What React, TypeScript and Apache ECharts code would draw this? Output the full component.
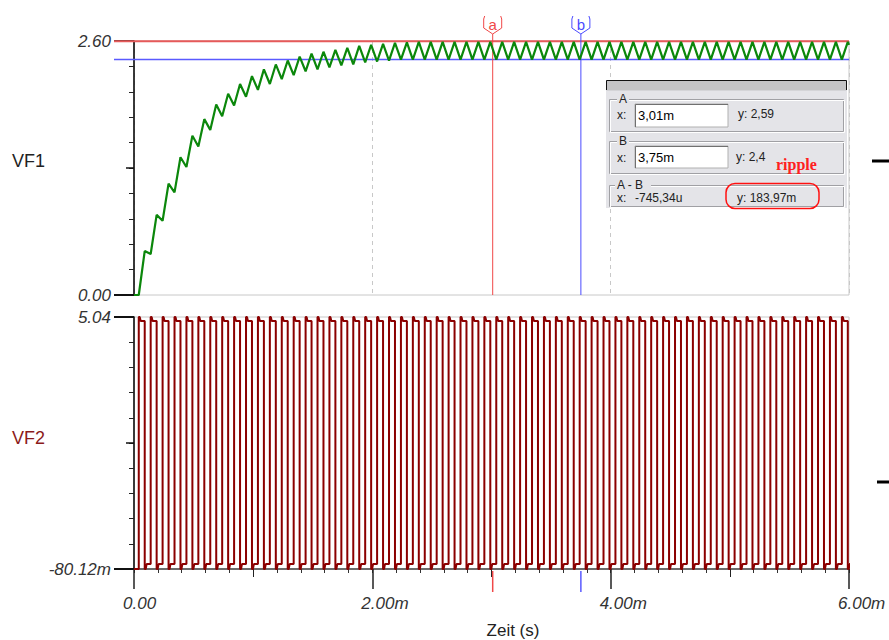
import React, { useEffect, useRef } from "react";
import * as echarts from "echarts";

// ---- data ----
const cycleStarts = [
  0.04, 0.14, 0.24, 0.34, 0.44, 0.54, 0.64, 0.74, 0.84, 0.94,
  1.04, 1.14, 1.24, 1.34, 1.44, 1.54, 1.64, 1.74, 1.84, 1.94,
  2.04, 2.14, 2.24, 2.34, 2.44, 2.54, 2.64, 2.74, 2.84, 2.94,
  3.04, 3.14, 3.24, 3.34, 3.44, 3.54, 3.64, 3.74, 3.84, 3.94,
  4.04, 4.14, 4.24, 4.34, 4.44, 4.54, 4.64, 4.74, 4.84, 4.94,
  5.04, 5.14, 5.24, 5.34, 5.44, 5.54, 5.64, 5.74, 5.84, 5.94,
];
const highWidth = 0.05; // ms of the high phase in every cycle
const vf1Peaks = [
  0.45, 0.82, 1.14, 1.41, 1.63, 1.8, 1.95, 2.06, 2.16, 2.24,
  2.31, 2.36, 2.4, 2.44, 2.47, 2.49, 2.51, 2.53, 2.55, 2.56,
  2.57, 2.58, 2.585, 2.59, 2.59, 2.59, 2.59, 2.59, 2.59, 2.59,
  2.59, 2.59, 2.59, 2.59, 2.59, 2.59, 2.59, 2.59, 2.59, 2.59,
  2.59, 2.59, 2.59, 2.59, 2.59, 2.59, 2.59, 2.59, 2.59, 2.59,
  2.59, 2.59, 2.59, 2.59, 2.59, 2.59, 2.59, 2.59, 2.59, 2.59,
];
const vf1Troughs = [
  0.42, 0.76, 1.05, 1.31, 1.52, 1.69, 1.83, 1.94, 2.03, 2.1,
  2.16, 2.21, 2.25, 2.29, 2.31, 2.33, 2.35, 2.36, 2.38, 2.39,
  2.4, 2.41, 2.41, 2.41, 2.41, 2.41, 2.41, 2.41, 2.41, 2.41,
  2.41, 2.41, 2.41, 2.41, 2.41, 2.41, 2.41, 2.41, 2.41, 2.41,
  2.41, 2.41, 2.41, 2.41, 2.41, 2.41, 2.41, 2.41, 2.41, 2.41,
  2.41, 2.41, 2.41, 2.41, 2.41, 2.41, 2.41, 2.41, 2.41, 2.56,
];
const vf2High = [5.04, 4.96]; // overshoot, settled
const vf2Low = [-0.08012, 0.02]; // undershoot, settled
const vf1Range = [0, 2.6];
const vf2Range = [-0.08012, 5.04];
const timeRange = [0, 6];
const timeLabels = [0, 2, 4, 6];
const timeMidTicks = [1, 3, 5];
const cursorA = { x: 3.01, y: 2.597 };
const cursorB = { x: 3.75, y: 2.41 };

const FONT = '"Liberation Sans", Arial, sans-serif';

function buildVF1(): number[][] {
  const pts: number[][] = [[timeRange[0], 0]];
  let prev = 0;
  for (let k = 0; k < cycleStarts.length; k++) {
    pts.push([cycleStarts[k], prev]);
    pts.push([cycleStarts[k] + highWidth, vf1Peaks[k]]);
    prev = vf1Troughs[k];
  }
  pts.push([timeRange[1], prev]);
  return pts;
}

function buildVF2(): number[][] {
  const pts: number[][] = [[timeRange[0], vf2Low[0]]];
  let level = vf2Low[0];
  for (let k = 0; k < cycleStarts.length; k++) {
    const r = cycleStarts[k];
    const f = r + highWidth;
    pts.push([r, level]);
    pts.push([r, vf2High[0]]);
    pts.push([r + 0.008, vf2High[0]]);
    pts.push([r + 0.016, vf2High[1]]);
    pts.push([f, vf2High[1]]);
    pts.push([f, vf2Low[0]]);
    pts.push([f + 0.008, vf2Low[0]]);
    pts.push([f + 0.016, vf2Low[1]]);
    level = vf2Low[1];
  }
  pts.push([timeRange[1], level]);
  return pts;
}

function tenTicks(r: number[]): number[] {
  const out: number[] = [];
  for (let i = 0; i <= 10; i++) out.push(r[0] + ((r[1] - r[0]) * i) / 10);
  return out;
}

function fmtY(v: number): string {
  if (Math.abs(v) < 1e-9) return "0.00";
  if (Math.abs(v) < 1) return (v * 1000).toFixed(2) + "m";
  return v.toFixed(2);
}

function fmtX(v: number): string {
  if (Math.abs(v) < 1e-9) return "0.00";
  return v.toFixed(2) + "m";
}

const labelFont = {
  fontSize: 17,
  fontStyle: "italic" as const,
  color: "#333",
  fontFamily: FONT,
};

function mainY(gridIndex: number, r: number[]) {
  return {
    type: "value",
    gridIndex,
    position: "left",
    offset: 0,
    min: r[0],
    max: r[1],
    axisLine: { show: true, onZero: false, lineStyle: { color: "#000", width: 1.5 } },
    axisTick: {
      show: true,
      inside: false,
      customValues: tenTicks(r),
      length: 5,
      lineStyle: { color: "#222", width: 1 },
    },
    axisLabel: {
      show: true,
      customValues: [r[0], r[1]],
      formatter: (v: number) => fmtY(v),
      margin: 23,
      ...labelFont,
    },
    splitLine: { show: false },
  };
}

function overlayY(gridIndex: number, r: number[], ticks: number[], len: number, width: number) {
  return {
    type: "value",
    gridIndex,
    position: "left",
    offset: 0,
    min: r[0],
    max: r[1],
    axisLine: { show: false, onZero: false },
    axisTick: {
      show: true,
      inside: false,
      customValues: ticks,
      length: len,
      lineStyle: { color: "#111", width },
    },
    axisLabel: { show: false, customValues: ticks },
    splitLine: { show: false },
  };
}

function overlayX(gridIndex: number, ticks: number[], len: number, width: number) {
  return {
    type: "value",
    gridIndex,
    position: "bottom",
    offset: 0,
    min: timeRange[0],
    max: timeRange[1],
    axisLine: { show: false, onZero: false },
    axisTick: {
      show: true,
      inside: false,
      customValues: ticks,
      length: len,
      lineStyle: { color: "#222", width },
    },
    axisLabel: { show: false, customValues: ticks },
    splitLine: { show: false },
  };
}

const xTicks: number[] = [];
for (let i = 0; i <= 30; i++) xTicks.push(+(i * 0.2).toFixed(2));

export default function App() {
  const ref = useRef<HTMLDivElement>(null);
  useEffect(() => {
    if (!ref.current) return;
    const chart = echarts.init(ref.current, undefined, { renderer: "svg" });
    const gridStyle = {
      show: true,
      borderColor: "#c8c8c8",
      borderWidth: 1,
      backgroundColor: "transparent",
    };
    chart.setOption({
      animation: false,
      backgroundColor: "#fff",
      grid: [
        { left: 134, width: 715, top: 41, height: 254, ...gridStyle },
        { left: 134, width: 715, top: 317, height: 252, ...gridStyle },
      ],
      xAxis: [
        {
          type: "value",
          gridIndex: 0,
          position: "bottom",
          min: timeRange[0],
          max: timeRange[1],
          interval: 2,
          axisLine: { show: false, onZero: false },
          axisTick: { show: false },
          axisLabel: { show: false },
          splitLine: { show: true, lineStyle: { color: "#c8c8c8", type: [4, 4], width: 1 } },
        },
        {
          type: "value",
          gridIndex: 1,
          position: "bottom",
          offset: 0,
          min: timeRange[0],
          max: timeRange[1],
          axisLine: { show: true, onZero: false, lineStyle: { color: "#444", width: 1.5 } },
          axisTick: {
            show: true,
            inside: false,
            customValues: xTicks,
            length: 4,
            lineStyle: { color: "#333", width: 1 },
          },
          axisLabel: {
            show: true,
            customValues: timeLabels,
            formatter: (v: number) => fmtX(v),
            align: "left",
            padding: [0, 0, 0, -11],
            margin: 26,
            ...labelFont,
          },
          splitLine: { show: false },
        },
        overlayX(1, timeMidTicks, 8, 1),
        overlayX(1, timeLabels, 20, 1.5),
      ],
      yAxis: [
        mainY(0, vf1Range),
        overlayY(0, vf1Range, [vf1Range[0], vf1Range[1]], 20, 2),
        overlayY(0, vf1Range, [(vf1Range[0] + vf1Range[1]) / 2], 8, 1.5),
        mainY(1, vf2Range),
        overlayY(1, vf2Range, [vf2Range[0], vf2Range[1]], 20, 2),
        overlayY(1, vf2Range, [(vf2Range[0] + vf2Range[1]) / 2], 8, 1.5),
      ],
      series: [
        {
          name: "VF1",
          type: "line",
          xAxisIndex: 0,
          yAxisIndex: 0,
          data: buildVF1(),
          showSymbol: false,
          symbol: "none",
          lineStyle: { color: "#0b870b", width: 2.2 },
          z: 3,
        },
        {
          name: "VF2",
          type: "line",
          xAxisIndex: 1,
          yAxisIndex: 3,
          data: buildVF2(),
          showSymbol: false,
          symbol: "none",
          lineStyle: { color: "#8b0000", width: 2 },
          z: 3,
        },
      ],
    });

    const pA = chart.convertToPixel({ gridIndex: 0 }, [cursorA.x, cursorA.y]) as number[];
    const pB = chart.convertToPixel({ gridIndex: 0 }, [cursorB.x, cursorB.y]) as number[];
    const bot0 = chart.convertToPixel({ gridIndex: 0 }, [timeRange[1], vf1Range[0]]) as number[];
    const bot1 = chart.convertToPixel({ gridIndex: 1 }, [timeRange[0], vf2Range[0]]) as number[];
    const right = bot0[0];
    const leftTick = 114;

    const txt = (
      x: number,
      y: number,
      text: string,
      opts: Record<string, any> = {}
    ) => ({
      type: "text",
      x,
      y,
      z: opts.z ?? 60,
      style: {
        text,
        fill: opts.fill ?? "#222",
        font: opts.font ?? `12px ${FONT}`,
        textAlign: opts.align ?? "left",
        align: opts.align ?? "left",
        textVerticalAlign: "middle",
        verticalAlign: "middle",
      },
    });

    const tab = (x: number, color: string, label: string) => [
      {
        type: "polyline",
        z: 5,
        shape: {
          points: [
            [x - 8, 16],
            [x - 9, 19],
            [x - 9, 28],
            [x, 34],
            [x + 9, 28],
            [x + 9, 19],
            [x + 8, 16],
          ],
        },
        style: { stroke: color, lineWidth: 1, fill: "none" },
      },
      txt(x, 24, label, { fill: color, font: `15px ${FONT}`, align: "center", z: 5 }),
    ];

    const group = (y1: number, y2: number, label: string, lx: number, lw: number) => [
      {
        type: "rect",
        z: 52,
        shape: { x: 609.5, y: y1 + 0.5, width: 234, height: y2 - y1 },
        style: { fill: "none", stroke: "#a0a0a4", lineWidth: 1 },
      },
      {
        type: "rect",
        z: 52,
        shape: { x: 610.5, y: y1 + 1.5, width: 234, height: y2 - y1 },
        style: { fill: "none", stroke: "#ffffff", lineWidth: 1 },
      },
      {
        type: "rect",
        z: 53,
        shape: { x: lx - 2, y: y1 - 5, width: lw + 4, height: 9 },
        style: { fill: "#e4e4e8" },
      },
      txt(lx, y1, label, { z: 54 }),
    ];

    const inputBox = (y: number, h: number, value: string) => [
      {
        type: "rect",
        z: 54,
        shape: { x: 635, y, width: 93, height: h },
        style: { fill: "#ffffff", stroke: "#b0b0b0", lineWidth: 1 },
      },
      {
        type: "polyline",
        z: 55,
        shape: { points: [[635.5, y + h], [635.5, y + 0.5], [728, y + 0.5]] },
        style: { stroke: "#707070", lineWidth: 1, fill: "none" },
      },
      txt(638, y + h / 2, value, { font: `13px ${FONT}`, fill: "#000", z: 56 }),
    ];

    chart.setOption({
      graphic: [
        // cursors
        {
          type: "line",
          z: 1,
          shape: { x1: leftTick, y1: pA[1], x2: right, y2: pA[1] },
          style: { stroke: "#e65a5a", lineWidth: 2 },
        },
        {
          type: "line",
          z: 1,
          shape: { x1: leftTick, y1: pB[1], x2: right, y2: pB[1] },
          style: { stroke: "#5a5aff", lineWidth: 1.5 },
        },
        {
          type: "line",
          z: 1,
          shape: { x1: pA[0], y1: 34, x2: pA[0], y2: bot0[1] },
          style: { stroke: "#f04848", lineWidth: 1 },
        },
        {
          type: "line",
          z: 1,
          shape: { x1: pB[0], y1: 34, x2: pB[0], y2: bot0[1] },
          style: { stroke: "#4a4aff", lineWidth: 1 },
        },
        {
          type: "line",
          z: 1,
          shape: { x1: pA[0], y1: bot1[1] + 2, x2: pA[0], y2: bot1[1] + 23 },
          style: { stroke: "#f04848", lineWidth: 1.5 },
        },
        {
          type: "line",
          z: 1,
          shape: { x1: pB[0], y1: bot1[1] + 2, x2: pB[0], y2: bot1[1] + 23 },
          style: { stroke: "#5a5aff", lineWidth: 1.5 },
        },
        ...tab(pA[0], "#f04848", "a"),
        ...tab(pB[0], "#4a4aff", "b"),
        // axis names
        txt(12, 161, "VF1", { font: `18px ${FONT}`, fill: "#222" }),
        txt(12, 438, "VF2", { font: `18px ${FONT}`, fill: "#8b1a1a" }),
        txt(513, 630, "Zeit (s)", { font: `17px ${FONT}`, fill: "#222", align: "center" }),
        // outside dashes
        {
          type: "line",
          shape: { x1: 872, y1: 161, x2: 889, y2: 161 },
          style: { stroke: "#000", lineWidth: 3 },
        },
        {
          type: "line",
          shape: { x1: 877, y1: 482, x2: 889, y2: 482 },
          style: { stroke: "#000", lineWidth: 3 },
        },
        // cursor panel
        {
          type: "rect",
          z: 50,
          shape: { x: 606, y: 80, width: 241, height: 128 },
          style: { fill: "#e4e4e8" },
        },
        {
          type: "rect",
          z: 51,
          shape: { x: 606.5, y: 80.5, width: 240, height: 10 },
          style: { fill: "#c4c4c6" },
        },
        {
          type: "polyline",
          z: 52,
          shape: { points: [[606.5, 90], [606.5, 80.5], [846.5, 80.5], [846.5, 90]] },
          style: { stroke: "#111", lineWidth: 1, fill: "none" },
        },
        ...group(99, 131, "A", 619, 8),
        ...group(141, 173, "B", 619, 8),
        ...group(185, 206, "A - B", 617, 32),
        txt(617, 115, "x:"),
        ...inputBox(104, 23, "3,01m"),
        txt(738, 114, "y: 2,59"),
        txt(617, 157.5, "x:"),
        ...inputBox(146, 22, "3,75m"),
        txt(736, 157, "y: 2,4"),
        txt(776, 164, "ripple", { font: `bold 16px "Liberation Serif", serif`, fill: "#ff2020" }),
        txt(617, 198, "x:"),
        txt(635, 198, "-745,34u"),
        txt(737, 198, "y: 183,97m"),
        {
          type: "rect",
          z: 60,
          shape: { x: 726, y: 183.5, width: 93, height: 25, r: 9 },
          style: { fill: "none", stroke: "#ff1010", lineWidth: 1.5 },
        },
      ],
    });

    return () => chart.dispose();
  }, []);
  return (
    <div
      ref={ref}
      style={{ position: "fixed", left: 0, top: 0, width: 889, height: 640 }}
    />
  );
}
